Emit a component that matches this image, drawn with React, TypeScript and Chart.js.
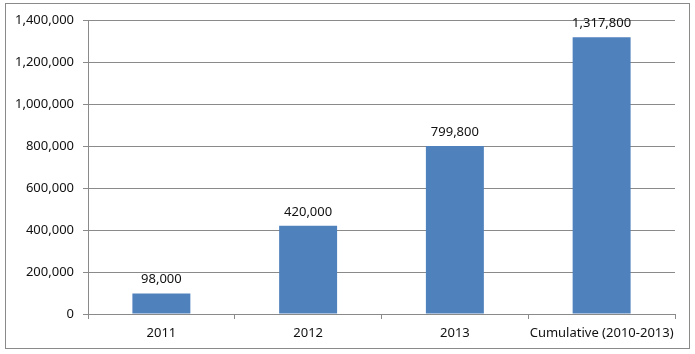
import React, { useEffect, useRef } from "react";
import { Chart, registerables } from "chart.js";

Chart.register(...registerables);

const categories = ["2011", "2012", "2013", "Cumulative (2010-2013)"];
const values = [98000, 420000, 799800, 1317800];
const yMax = 1400000;
const yStep = 200000;

const fmt = (v: number) => v.toLocaleString("en-US");
const FONT = "'Noto Sans', sans-serif";

const frame = {
  id: "frame",
  beforeDraw(chart: any) {
    const ctx = chart.ctx;
    ctx.save();
    ctx.fillStyle = "#ffffff";
    ctx.fillRect(0, 0, chart.width, chart.height);
    ctx.strokeStyle = "#8a8a8a";
    ctx.lineWidth = 1;
    ctx.strokeRect(5.5, 3.5, 684, 345);
    ctx.restore();
  },
};

const dataLabels = {
  id: "dataLabels",
  afterDatasetsDraw(chart: any) {
    const ctx = chart.ctx;
    ctx.save();
    ctx.font = `13px ${FONT}`;
    ctx.fillStyle = "#111111";
    ctx.textAlign = "center";
    ctx.textBaseline = "alphabetic";
    const meta = chart.getDatasetMeta(0);
    meta.data.forEach((bar: any, i: number) => {
      ctx.fillText(fmt(values[i]), bar.x, bar.y - 10);
    });
    ctx.restore();
  },
};

export default function App() {
  const ref = useRef<HTMLCanvasElement | null>(null);
  useEffect(() => {
    if (!ref.current) return;
    const chart = new Chart(ref.current, {
      type: "bar",
      data: {
        labels: categories,
        datasets: [
          {
            data: values,
            backgroundColor: "#4F81BD",
            barPercentage: 0.395,
            categoryPercentage: 1,
          },
        ],
      },
      options: {
        responsive: false,
        animation: false,
        layout: { padding: { top: 20, right: 20, left: 0, bottom: 0 } },
        plugins: { legend: { display: false }, tooltip: { enabled: false } },
        scales: {
          x: {
            grid: {
              drawOnChartArea: false,
              drawTicks: true,
              tickLength: 5,
              color: "#8a8a8a",
              offset: true,
            },
            border: { color: "#8a8a8a" },
            ticks: {
              font: { family: FONT, size: 13 },
              color: "#111111",
              padding: 6,
              maxRotation: 0,
              autoSkip: false,
            },
            afterFit(scale: any) {
              scale.height = 40;
            },
          },
          y: {
            min: 0,
            max: yMax,
            grid: { color: "#8a8a8a", tickLength: 5 },
            border: { color: "#8a8a8a" },
            ticks: {
              stepSize: yStep,
              font: { family: FONT, size: 13 },
              color: "#111111",
              padding: 9,
              callback: (v: any) => fmt(Number(v)),
            },
            afterFit(scale: any) {
              scale.width = 88;
            },
          },
        },
      },
      plugins: [frame, dataLabels],
    });
    return () => chart.destroy();
  }, []);
  return (
    <div style={{ position: "absolute", left: 0, top: 0, width: 695, height: 354 }}>
      <canvas ref={ref} width={695} height={354} />
    </div>
  );
}
